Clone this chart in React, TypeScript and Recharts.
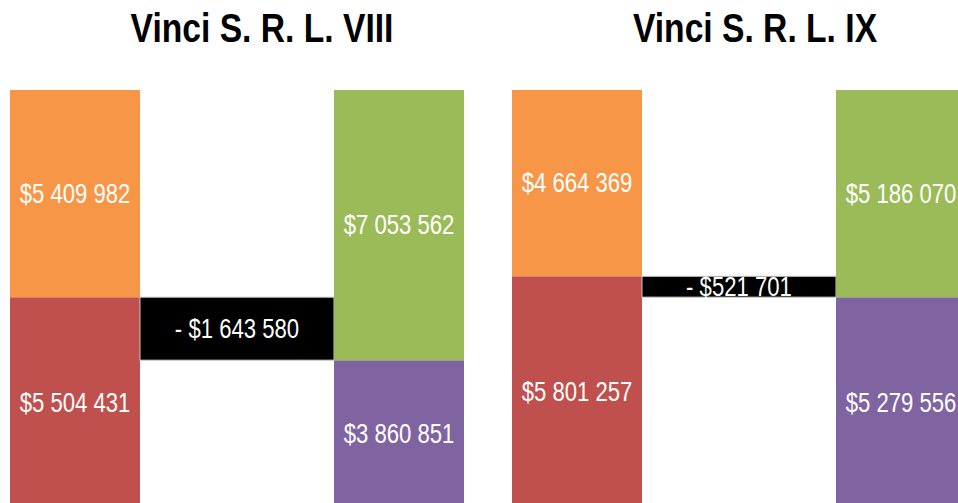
import React from "react"
import { BarChart, Bar, XAxis, YAxis, Cell, LabelList } from "recharts"

// panel titles
const titles = ["Vinci S. R. L. VIII", "Vinci S. R. L. IX"]
// column names inside each panel
const categories = ["Inicio", "Diferencia", "Cierre"]
// left column: top (orange) and bottom (red) parts
const leftTop = [5409982, 4664369]
const leftBottom = [5504431, 5801257]
// right column: top (green) and bottom (purple) parts
const rightTop = [7053562, 5186070]
const rightBottom = [3860851, 5279556]
// difference shown in the black bridge
const differences = [-1643580, -521701]

const ORANGE = "#F79646"
const RED = "#C0504D"
const GREEN = "#9BBB59"
const PURPLE = "#8064A2"

// no narrow font installed, so squeeze Liberation Sans horizontally
const FONT = "'Liberation Sans', Arial, sans-serif"
const SQUEEZE = 0.82

const CHART_W = 486
const CHART_H = 508
const BAR = 130
const BAND = CHART_W / 3

const money = (v: number) => {
  const s = Math.abs(Math.round(v)).toString().replace(/\B(?=(\d{3})+(?!\d))/g, " ")
  return v < 0 ? `- $${s}` : `$${s}`
}

const WideShape = (props: any) => {
  const { x, y, width, height } = props
  if (!height) return null
  const extra = BAND - BAR
  return (
    <rect x={x - extra} y={y} width={width + extra * 2} height={height} fill="#000" stroke="#c8c8c8" strokeWidth={1} />
  )
}

const makeLabel = (signed?: number) => (props: any) => {
  const { x, y, width, height, value } = props
  if (!value) return null
  const cx = x + width / 2
  const cy = y + height / 2
  return (
    <text
      transform={`translate(${cx},${cy}) scale(${SQUEEZE},1)`}
      x={0}
      y={0}
      textAnchor="middle"
      dominantBaseline="central"
      fill="#fff"
      fontFamily={FONT}
      fontSize={27}
    >
      {money(signed !== undefined ? signed : value)}
    </text>
  )
}

const Panel = ({ i, left, titleCenter }: { i: number; left: number; titleCenter: number }) => {
  const data = [
    { name: categories[0], bottom: leftBottom[i], diff: 0, top: leftTop[i] },
    { name: categories[1], bottom: rightBottom[i], diff: Math.abs(differences[i]), top: 0 },
    { name: categories[2], bottom: rightBottom[i], diff: 0, top: rightTop[i] },
  ]
  const total = leftBottom[i] + leftTop[i]
  const bottomColors = [RED, "transparent", PURPLE]
  const topColors = [ORANGE, "transparent", GREEN]
  return (
    <>
      <div
        style={{
          position: "absolute",
          left: titleCenter - 250,
          top: 8,
          width: 500,
          textAlign: "center",
          fontFamily: FONT,
          fontWeight: "bold",
          fontSize: 41,
          lineHeight: "41px",
          color: "#000",
          transform: `scaleX(${SQUEEZE})`,
          transformOrigin: "center",
        }}
      >
        {titles[i]}
      </div>
      <div style={{ position: "absolute", left, top: 0 }}>
        <BarChart width={CHART_W} height={CHART_H} data={data} margin={{ top: 90, right: 0, bottom: 0, left: 0 }} barSize={BAR}>
          <XAxis dataKey="name" hide />
          <YAxis hide domain={[0, total]} />
          <Bar dataKey="bottom" stackId="a" isAnimationActive={false}>
            {data.map((d, k) => (
              <Cell key={`b-${k}`} fill={bottomColors[k]} />
            ))}
            <LabelList
              dataKey="bottom"
              content={(p: any) => (p.index === 1 ? null : makeLabel()(p))}
            />
          </Bar>
          <Bar dataKey="diff" stackId="a" isAnimationActive={false} shape={WideShape}>
            <LabelList dataKey="diff" content={makeLabel(differences[i])} />
          </Bar>
          <Bar dataKey="top" stackId="a" isAnimationActive={false}>
            {data.map((d, k) => (
              <Cell key={`t-${k}`} fill={topColors[k]} />
            ))}
            <LabelList dataKey="top" content={makeLabel()} />
          </Bar>
        </BarChart>
      </div>
    </>
  )
}

export default function App() {
  return (
    <div
      style={{
        position: "fixed",
        left: 0,
        top: 0,
        width: 958,
        height: 503,
        overflow: "hidden",
        background: "#fff",
      }}
    >
      <Panel i={0} left={-6} titleCenter={262} />
      <Panel i={1} left={496} titleCenter={755} />
    </div>
  )
}
